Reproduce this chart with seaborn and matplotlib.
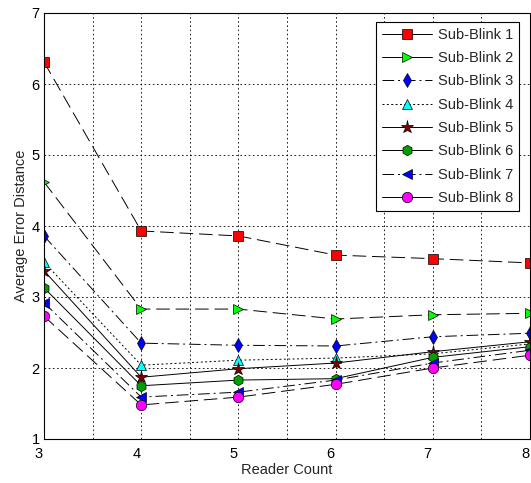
import matplotlib
matplotlib.use("Agg")
import matplotlib.pyplot as plt
import matplotlib.transforms as mtransforms
import seaborn as sns
import pandas as pd

reader_count = [3, 4, 5, 6, 7, 8]
series_names = ["Sub-Blink 1", "Sub-Blink 2", "Sub-Blink 3", "Sub-Blink 4",
                "Sub-Blink 5", "Sub-Blink 6", "Sub-Blink 7", "Sub-Blink 8"]
sub_blink_1 = [6.31, 3.93, 3.86, 3.59, 3.54, 3.48]
sub_blink_2 = [4.62, 2.83, 2.83, 2.69, 2.75, 2.77]
sub_blink_3 = [3.86, 2.35, 2.32, 2.31, 2.44, 2.49]
sub_blink_4 = [3.49, 2.04, 2.11, 2.14, 2.20, 2.34]
sub_blink_5 = [3.37, 1.87, 1.99, 2.07, 2.23, 2.37]
sub_blink_6 = [3.13, 1.75, 1.83, 1.85, 2.15, 2.30]
sub_blink_7 = [2.92, 1.59, 1.66, 1.83, 2.07, 2.25]
sub_blink_8 = [2.73, 1.48, 1.59, 1.77, 2.00, 2.18]
all_series = [sub_blink_1, sub_blink_2, sub_blink_3, sub_blink_4,
              sub_blink_5, sub_blink_6, sub_blink_7, sub_blink_8]

# marker, face colour, line style in plot, line style in legend
styles = [
    ("s", "#ff0000", (0, (14, 6)), "-"),
    (">", "#00ff00", (0, (14, 6)), "-"),
    ("d", "#0000ff", (0, (12, 4, 2, 4)), (0, (12, 4, 2, 4))),
    ("^", "#00ffff", (0, (2, 2.5)), (0, (2, 2.5))),
    ("*", "#800000", "-", "-"),
    ("h", "#00a000", "-", "-"),
    ("<", "#0000ff", (0, (12, 4, 2, 4)), (0, (12, 4, 2, 4))),
    ("o", "#ff00ff", (0, (14, 6)), "-"),
]

sns.set_style("white")
plt.rcParams["font.family"] = ["Liberation Sans", "DejaVu Sans"]

fig = plt.figure(figsize=(5.31, 4.83), dpi=100)
ax = fig.add_axes([44 / 531, 1 - 439 / 483, 486 / 531, 426 / 483])

for name, vals, (mk, fc, ls, _) in zip(series_names, all_series, styles):
    df = pd.DataFrame({"x": reader_count, "y": vals})
    sns.lineplot(data=df, x="x", y="y", ax=ax, color="black", linewidth=0.7,
                 linestyle=ls, marker=mk, markerfacecolor=fc,
                 markeredgecolor="black", markeredgewidth=0.5,
                 markersize=9.5 if mk == "*" else 7.5, label=name)

ax.set_xlim(3, 8)
ax.set_ylim(1, 7)
xt = [3 + 0.5 * i for i in range(11)]
ax.set_xticks(xt)
ax.set_xticklabels([str(int(v)) if v == int(v) else "" for v in xt])
ax.set_yticks(range(1, 8))
ax.tick_params(direction="in", length=4, labelsize=10.5, colors="black", pad=3)
ax.tick_params(axis="x", pad=6)
shift = mtransforms.ScaledTranslation(-5 / 100, 0, fig.dpi_scale_trans)
for lab in ax.get_xticklabels():
    lab.set_transform(lab.get_transform() + shift)
ax.grid(True, color="black", linestyle=(0, (2, 3)), linewidth=0.6)
for s in ax.spines.values():
    s.set_color("black")
    s.set_linewidth(0.8)

ax.set_xlabel("Reader Count", fontsize=10.5, labelpad=1)
ax.set_ylabel("Average Error Distance", fontsize=10.5, labelpad=3)

leg = ax.legend(loc="upper right", bbox_to_anchor=(0.977, 0.979), borderaxespad=0,
                fontsize=10.5, frameon=True, fancybox=False, edgecolor="black",
                framealpha=1, handlelength=3.4, handletextpad=0.4,
                borderpad=0.4, labelspacing=0.64)
leg.get_frame().set_linewidth(0.8)
for line, st in zip(leg.get_lines(), styles):
    line.set_linestyle(st[3])

fig.savefig("out.png", dpi=100)
